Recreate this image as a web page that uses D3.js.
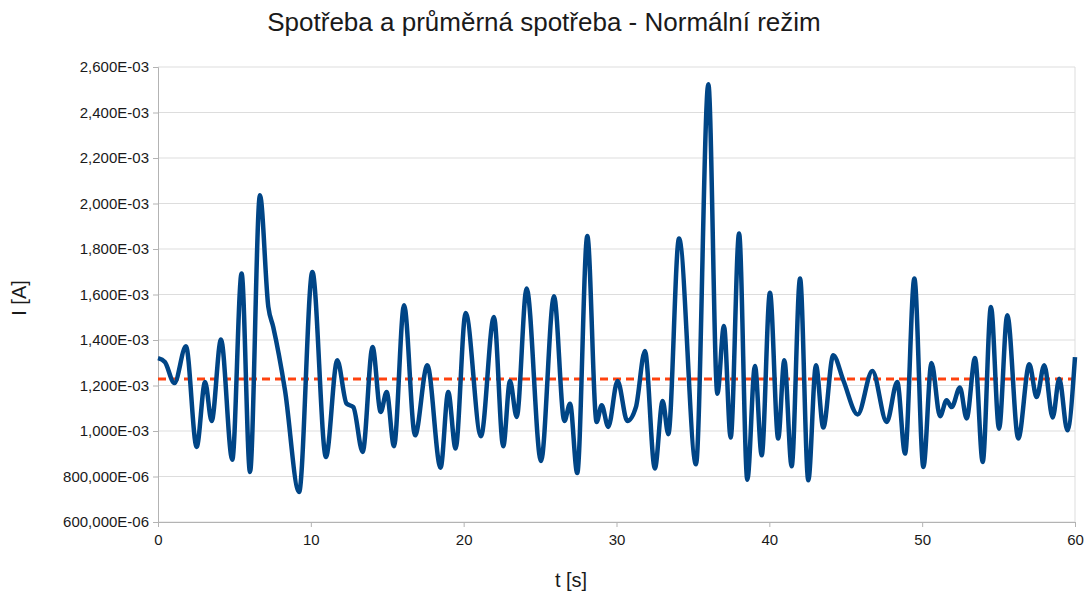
<!DOCTYPE html>
<html>
<head>
<meta charset="utf-8">
<script src="https://cdn.jsdelivr.net/npm/d3@7"></script>
<style>
  body { margin: 0; background: #fff; }
  svg text { font-family: "Liberation Sans", Arial, sans-serif; fill: #1a1a1a; }
</style>
</head>
<body>
<div id="chart"></div>
<script>
// t [s]
const times = [
  0.00, 0.45, 1.07, 1.83, 2.53, 3.08, 3.51, 4.12, 4.86, 5.47, 6.02, 6.67, 7.22, 7.54, 8.31, 9.23,
  10.10, 10.99, 11.73, 12.34, 12.78, 13.39, 14.04, 14.57, 14.96, 15.44, 16.10, 16.82, 17.62, 18.49, 18.99, 19.47,
  20.13, 21.13, 21.98, 22.59, 23.03, 23.47, 24.12, 25.06, 25.91, 26.59, 26.96, 27.43, 28.09, 28.70, 29.03, 29.46,
  30.07, 30.71, 31.27, 31.86, 32.51, 33.02, 33.39, 34.09, 35.20, 36.01, 36.60, 37.03, 37.47, 38.02, 38.56, 39.06, 39.50,
  40.04, 40.58, 40.98, 41.46, 42.01, 42.55, 43.05, 43.53, 44.18, 44.84, 45.78, 46.74, 47.68, 48.37, 48.88, 49.49,
  50.08, 50.61, 51.17, 51.60, 51.93, 52.47, 52.91, 53.46, 53.96, 54.50, 55.03, 55.57, 56.29, 57.01, 57.49, 57.99,
  58.54, 58.97, 59.50, 60.00
];
// I [mA]
const current = [
  1.320, 1.303, 1.211, 1.372, 0.930, 1.215, 1.044, 1.402, 0.874, 1.692, 0.820, 2.036, 1.545, 1.457, 1.179, 0.732,
  1.699, 0.886, 1.311, 1.120, 1.105, 0.908, 1.369, 1.084, 1.171, 0.933, 1.553, 0.981, 1.289, 0.839, 1.171, 0.923,
  1.519, 0.977, 1.501, 0.933, 1.220, 1.062, 1.626, 0.868, 1.592, 1.044, 1.120, 0.815, 1.857, 1.040, 1.113, 1.018,
  1.220, 1.044, 1.105, 1.352, 0.835, 1.132, 0.986, 1.846, 0.854, 2.524, 1.164, 1.462, 0.971, 1.868, 0.786, 1.286, 0.893,
  1.608, 0.967, 1.311, 0.845, 1.670, 0.783, 1.289, 1.015, 1.333, 1.223, 1.073, 1.264, 1.040, 1.215, 0.901, 1.670,
  0.842, 1.299, 1.065, 1.135, 1.105, 1.191, 1.055, 1.321, 0.864, 1.545, 1.010, 1.509, 0.967, 1.293, 1.149, 1.289,
  1.059, 1.230, 1.003, 1.325
];
const averageCurrent = 1.229;

const xTicks = [0, 10, 20, 30, 40, 50, 60];
const yTicks = [0.6, 0.8, 1.0, 1.2, 1.4, 1.6, 1.8, 2.0, 2.2, 2.4, 2.6];
const yTickLabels = [
  "600,000E-06", "800,000E-06", "1,000E-03", "1,200E-03", "1,400E-03", "1,600E-03",
  "1,800E-03", "2,000E-03", "2,200E-03", "2,400E-03", "2,600E-03"
];

const width = 1090, height = 594;
const margin = { top: 67, right: 15, bottom: 72, left: 158 };

const svg = d3.select("#chart").append("svg")
  .attr("width", width)
  .attr("height", height);

const x = d3.scaleLinear().domain([0, 60]).range([margin.left, width - margin.right]);
const y = d3.scaleLinear().domain([0.6, 2.6]).range([height - margin.bottom, margin.top]);

// horizontal gridlines
svg.append("g")
  .selectAll("line")
  .data(yTicks)
  .join("line")
  .attr("x1", margin.left).attr("x2", width - margin.right)
  .attr("y1", d => y(d)).attr("y2", d => y(d))
  .attr("stroke", "#dddddd")
  .attr("stroke-width", 1);

// right border of plot area
svg.append("line")
  .attr("x1", x(60)).attr("x2", x(60))
  .attr("y1", y(2.6)).attr("y2", y(0.6))
  .attr("stroke", "#dddddd");

// y axis
const yAxis = svg.append("g")
  .attr("transform", `translate(${margin.left},0)`)
  .call(d3.axisLeft(y).tickValues(yTicks).tickFormat((d, i) => yTickLabels[i]).tickSize(5).tickPadding(4));
yAxis.select(".domain").attr("stroke", "#b3b3b3");
yAxis.selectAll(".tick line").attr("stroke", "#b3b3b3");
yAxis.selectAll(".tick text").attr("font-size", 15).style("fill", "#1a1a1a");

// x axis
const xAxis = svg.append("g")
  .attr("transform", `translate(0,${y(0.6)})`)
  .call(d3.axisBottom(x).tickValues(xTicks).tickSize(5).tickPadding(7));
xAxis.select(".domain").attr("stroke", "#b3b3b3");
xAxis.selectAll(".tick line").attr("stroke", "#b3b3b3");
xAxis.selectAll(".tick text").attr("font-size", 15).style("fill", "#1a1a1a");

// average line
svg.append("line")
  .attr("x1", x(0)).attr("x2", x(60))
  .attr("y1", y(averageCurrent)).attr("y2", y(averageCurrent))
  .attr("stroke", "#ff420e")
  .attr("stroke-width", 3)
  .attr("stroke-dasharray", "8,5");

// consumption line
const points = times.map((t, i) => [t, current[i]]);
const line = d3.line()
  .x(d => x(d[0]))
  .y(d => y(d[1]))
  .curve(d3.curveMonotoneX);

svg.append("path")
  .datum(points)
  .attr("fill", "none")
  .attr("stroke", "#004586")
  .attr("stroke-width", 4.5)
  .attr("stroke-linejoin", "round")
  .attr("d", line);

// title
svg.append("text")
  .attr("x", 544)
  .attr("y", 31)
  .attr("text-anchor", "middle")
  .attr("font-size", 26)
  .text("Spotřeba a průměrná spotřeba - Normální režim");

// axis titles
svg.append("text")
  .attr("x", 571)
  .attr("y", 587)
  .attr("text-anchor", "middle")
  .attr("font-size", 20)
  .text("t [s]");

svg.append("text")
  .attr("transform", `translate(26,298) rotate(-90)`)
  .attr("text-anchor", "middle")
  .attr("font-size", 20)
  .text("I [A]");
</script>
</body>
</html>
